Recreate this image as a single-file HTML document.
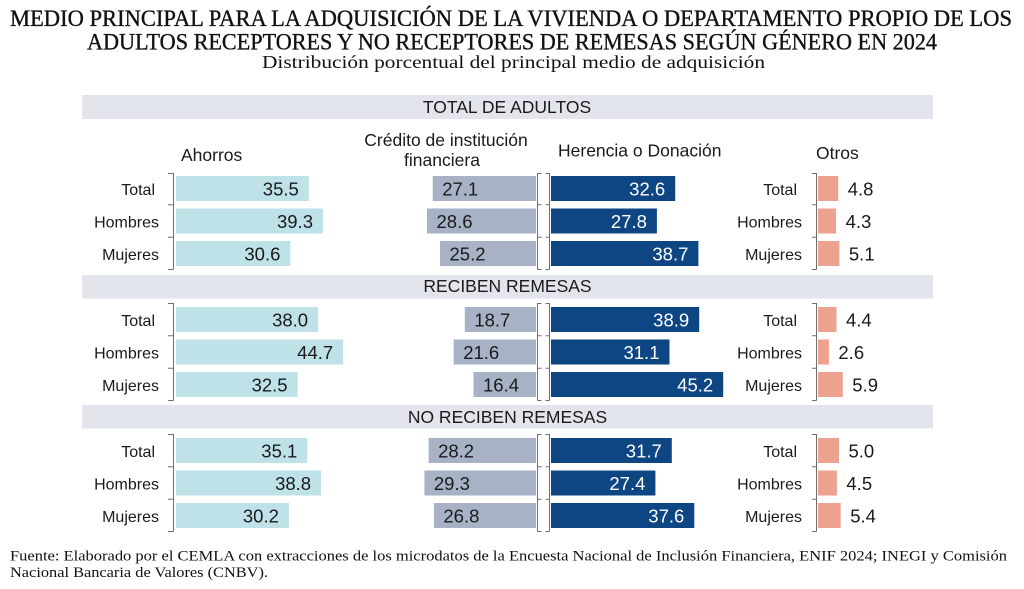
<!DOCTYPE html>
<html>
<head>
<meta charset="utf-8">
<style>
  html,body{margin:0;padding:0;background:#ffffff;}
  svg{display:block;}
  .ser{font-family:"Liberation Serif",serif;fill:#111;}
  .sans{font-family:"Liberation Sans",sans-serif;fill:#1a1a1a;}
  .lab{font-family:"Liberation Sans",sans-serif;font-size:16px;fill:#1a1a1a;text-anchor:end;}
  .val{font-family:"Liberation Sans",sans-serif;font-size:18.5px;fill:#1a1a1a;}
  .valw{font-family:"Liberation Sans",sans-serif;font-size:18.5px;fill:#ffffff;text-anchor:end;}
  .hdr{font-family:"Liberation Sans",sans-serif;font-size:17.5px;fill:#1a1a1a;}
  .band{fill:#e2e5ec;}
  .a{fill:#bfe1e8;}
  .c{fill:#a8b2c7;}
  .h{fill:#0e4684;}
  .o{fill:#eda290;}
  .ax{stroke:#6f6f6f;stroke-width:1;fill:none;}
</style>
</head>
<body>
<svg width="1024" height="589" viewBox="0 0 1024 589" xmlns="http://www.w3.org/2000/svg">
  <!-- Titles -->
  <text class="ser" x="10" y="26" font-size="23" textLength="1002" lengthAdjust="spacingAndGlyphs" stroke="#111" stroke-width="0.35">MEDIO PRINCIPAL PARA LA ADQUISICIÓN DE LA VIVIENDA O DEPARTAMENTO PROPIO DE LOS</text>
  <text class="ser" x="87" y="49.5" font-size="23" textLength="850" lengthAdjust="spacingAndGlyphs" stroke="#111" stroke-width="0.35">ADULTOS RECEPTORES Y NO RECEPTORES DE REMESAS SEGÚN GÉNERO EN 2024</text>
  <text class="ser" x="262" y="68" font-size="18" textLength="503" lengthAdjust="spacingAndGlyphs">Distribución porcentual del principal medio de adquisición</text>

  <!-- Bands -->
  <rect class="band" x="82" y="95" width="851" height="24"/>
  <text class="sans" x="507" y="113" font-size="17.5" text-anchor="middle">TOTAL DE ADULTOS</text>
  <rect class="band" x="82" y="275" width="851" height="23.5"/>
  <text class="sans" x="507.5" y="292" font-size="17.5" text-anchor="middle">RECIBEN REMESAS</text>
  <rect class="band" x="82" y="405" width="851" height="23.5"/>
  <text class="sans" x="507.5" y="423" font-size="17.5" text-anchor="middle">NO RECIBEN REMESAS</text>

  <!-- Column headers -->
  <text class="hdr" x="181" y="161">Ahorros</text>
  <text class="hdr" x="446" y="146" text-anchor="middle">Crédito de institución</text>
  <text class="hdr" x="442" y="166" text-anchor="middle">financiera</text>
  <text class="hdr" x="558" y="156.5">Herencia o Donación</text>
  <text class="hdr" x="816" y="159">Otros</text>

  <!-- ================= SECTION 1 ================= -->
  <!-- axes -->
  <path class="ax" d="M173.5 173 V269.5 M168 173.5 H173.5 M168 204.75 H173.5 M168 237.25 H173.5 M168 269.5 H173.5"/>
  <path class="ax" d="M537.5 173 V269.5 M537.5 173.5 H541.5 M537.5 204.75 H541.5 M537.5 237.25 H541.5 M537.5 269.5 H541.5"/>
  <path class="ax" d="M549.5 173 V269.5 M545.5 173.5 H549.5 M545.5 204.75 H549.5 M545.5 237.25 H549.5 M545.5 269.5 H549.5"/>
  <path class="ax" d="M816.5 173 V269.5 M812 173.5 H816.5 M812 204.75 H816.5 M812 237.25 H816.5 M812 269.5 H816.5"/>
  <!-- labels -->
  <text class="lab" x="155" y="195">Total</text>
  <text class="lab" x="159" y="227.5">Hombres</text>
  <text class="lab" x="159" y="260">Mujeres</text>
  <text class="lab" x="797" y="195">Total</text>
  <text class="lab" x="802" y="227.5">Hombres</text>
  <text class="lab" x="802" y="260">Mujeres</text>
  <!-- Ahorros -->
  <rect class="a" x="176" y="176" width="132.8" height="25"/>
  <rect class="a" x="176" y="208.5" width="147" height="25"/>
  <rect class="a" x="176" y="241" width="114.4" height="25"/>
  <text class="val" x="298.8" y="195.5" text-anchor="end">35.5</text>
  <text class="val" x="313" y="228" text-anchor="end">39.3</text>
  <text class="val" x="280.4" y="260.5" text-anchor="end">30.6</text>
  <!-- Credito -->
  <rect class="c" x="432.7" y="176" width="103.3" height="25"/>
  <rect class="c" x="427" y="208.5" width="109" height="25"/>
  <rect class="c" x="440" y="241" width="96" height="25"/>
  <text class="val" x="442.2" y="195.5">27.1</text>
  <text class="val" x="436.5" y="228">28.6</text>
  <text class="val" x="449.5" y="260.5">25.2</text>
  <!-- Herencia -->
  <rect class="h" x="551" y="176" width="124.2" height="25"/>
  <rect class="h" x="551" y="208.5" width="105.9" height="25"/>
  <rect class="h" x="551" y="241" width="147.4" height="25"/>
  <text class="valw" x="665.2" y="195.5">32.6</text>
  <text class="valw" x="646.9" y="228">27.8</text>
  <text class="valw" x="688.4" y="260.5">38.7</text>
  <!-- Otros -->
  <rect class="o" x="818" y="176" width="20.2" height="25"/>
  <rect class="o" x="818" y="208.5" width="18.1" height="25"/>
  <rect class="o" x="818" y="241" width="21.4" height="25"/>
  <text class="val" x="847.7" y="195.5">4.8</text>
  <text class="val" x="845.6" y="228">4.3</text>
  <text class="val" x="848.9" y="260.5">5.1</text>

  <!-- ================= SECTION 2 ================= -->
  <path class="ax" d="M173.5 303 V400.5 M168 303.5 H173.5 M168 335.75 H173.5 M168 368.25 H173.5 M168 400.5 H173.5"/>
  <path class="ax" d="M537.5 303 V400.5 M537.5 303.5 H541.5 M537.5 335.75 H541.5 M537.5 368.25 H541.5 M537.5 400.5 H541.5"/>
  <path class="ax" d="M549.5 303 V400.5 M545.5 303.5 H549.5 M545.5 335.75 H549.5 M545.5 368.25 H549.5 M545.5 400.5 H549.5"/>
  <path class="ax" d="M816.5 303 V400.5 M812 303.5 H816.5 M812 335.75 H816.5 M812 368.25 H816.5 M812 400.5 H816.5"/>
  <text class="lab" x="155" y="326">Total</text>
  <text class="lab" x="159" y="358.5">Hombres</text>
  <text class="lab" x="159" y="391">Mujeres</text>
  <text class="lab" x="797" y="326">Total</text>
  <text class="lab" x="802" y="358.5">Hombres</text>
  <text class="lab" x="802" y="391">Mujeres</text>
  <rect class="a" x="176" y="307" width="142.1" height="25"/>
  <rect class="a" x="176" y="339.5" width="167.2" height="25"/>
  <rect class="a" x="176" y="372" width="121.6" height="25"/>
  <text class="val" x="308.1" y="326.5" text-anchor="end">38.0</text>
  <text class="val" x="333.2" y="359" text-anchor="end">44.7</text>
  <text class="val" x="287.6" y="391.5" text-anchor="end">32.5</text>
  <rect class="c" x="464.8" y="307" width="71.2" height="25"/>
  <rect class="c" x="453.7" y="339.5" width="82.3" height="25"/>
  <rect class="c" x="473.5" y="372" width="62.5" height="25"/>
  <text class="val" x="474.3" y="326.5">18.7</text>
  <text class="val" x="463.2" y="359">21.6</text>
  <text class="val" x="483" y="391.5">16.4</text>
  <rect class="h" x="551" y="307" width="148.2" height="25"/>
  <rect class="h" x="551" y="339.5" width="118.5" height="25"/>
  <rect class="h" x="551" y="372" width="172.2" height="25"/>
  <text class="valw" x="689.2" y="326.5">38.9</text>
  <text class="valw" x="659.5" y="359">31.1</text>
  <text class="valw" x="713.2" y="391.5">45.2</text>
  <rect class="o" x="818" y="307" width="18.5" height="25"/>
  <rect class="o" x="818" y="339.5" width="10.9" height="25"/>
  <rect class="o" x="818" y="372" width="24.8" height="25"/>
  <text class="val" x="846" y="326.5">4.4</text>
  <text class="val" x="838.4" y="359">2.6</text>
  <text class="val" x="852.3" y="391.5">5.9</text>

  <!-- ================= SECTION 3 ================= -->
  <path class="ax" d="M173.5 434 V531.5 M168 434.5 H173.5 M168 466.75 H173.5 M168 499.25 H173.5 M168 531.5 H173.5"/>
  <path class="ax" d="M537.5 434 V531.5 M537.5 434.5 H541.5 M537.5 466.75 H541.5 M537.5 499.25 H541.5 M537.5 531.5 H541.5"/>
  <path class="ax" d="M549.5 434 V531.5 M545.5 434.5 H549.5 M545.5 466.75 H549.5 M545.5 499.25 H549.5 M545.5 531.5 H549.5"/>
  <path class="ax" d="M816.5 434 V531.5 M812 434.5 H816.5 M812 466.75 H816.5 M812 499.25 H816.5 M812 531.5 H816.5"/>
  <text class="lab" x="155" y="457">Total</text>
  <text class="lab" x="159" y="489.5">Hombres</text>
  <text class="lab" x="159" y="522">Mujeres</text>
  <text class="lab" x="797" y="457">Total</text>
  <text class="lab" x="802" y="489.5">Hombres</text>
  <text class="lab" x="802" y="522">Mujeres</text>
  <rect class="a" x="176" y="438" width="131.3" height="25"/>
  <rect class="a" x="176" y="470.5" width="145.1" height="25"/>
  <rect class="a" x="176" y="503" width="112.9" height="25"/>
  <text class="val" x="297.3" y="457.5" text-anchor="end">35.1</text>
  <text class="val" x="311.1" y="490" text-anchor="end">38.8</text>
  <text class="val" x="278.9" y="522.5" text-anchor="end">30.2</text>
  <rect class="c" x="428.6" y="438" width="107.4" height="25"/>
  <rect class="c" x="424.4" y="470.5" width="111.6" height="25"/>
  <rect class="c" x="433.9" y="503" width="102.1" height="25"/>
  <text class="val" x="438.1" y="457.5">28.2</text>
  <text class="val" x="433.9" y="490">29.3</text>
  <text class="val" x="443.4" y="522.5">26.8</text>
  <rect class="h" x="551" y="438" width="120.8" height="25"/>
  <rect class="h" x="551" y="470.5" width="104.4" height="25"/>
  <rect class="h" x="551" y="503" width="143.3" height="25"/>
  <text class="valw" x="661.8" y="457.5">31.7</text>
  <text class="valw" x="645.4" y="490">27.4</text>
  <text class="valw" x="684.3" y="522.5">37.6</text>
  <rect class="o" x="818" y="438" width="21" height="25"/>
  <rect class="o" x="818" y="470.5" width="18.9" height="25"/>
  <rect class="o" x="818" y="503" width="22.7" height="25"/>
  <text class="val" x="848.5" y="457.5">5.0</text>
  <text class="val" x="846.4" y="490">4.5</text>
  <text class="val" x="850.2" y="522.5">5.4</text>

  <!-- Footer -->
  <text class="ser" x="10" y="560.5" font-size="15" textLength="997" lengthAdjust="spacingAndGlyphs" fill="#1a1a1a">Fuente: Elaborado por el CEMLA con extracciones de los microdatos de la Encuesta Nacional de Inclusión Financiera, ENIF 2024; INEGI y Comisión</text>
  <text class="ser" x="10" y="577" font-size="15" textLength="258" lengthAdjust="spacingAndGlyphs" fill="#1a1a1a">Nacional Bancaria de Valores (CNBV).</text>
</svg>
</body>
</html>
